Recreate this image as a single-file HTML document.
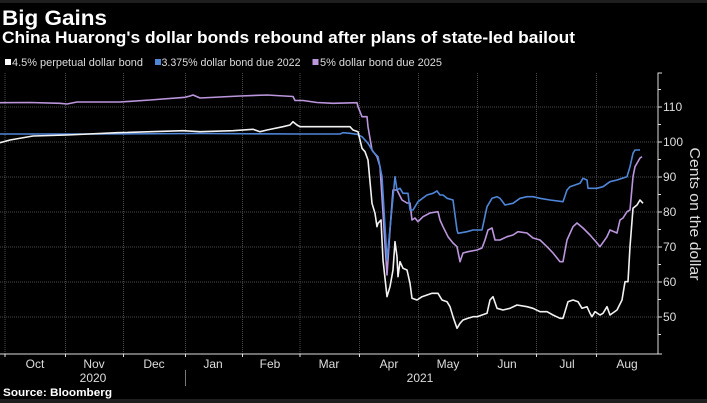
<!DOCTYPE html>
<html><head><meta charset="utf-8"><style>
html,body{margin:0;padding:0;background:#000;}
svg{display:block;}
text{font-family:"Liberation Sans Narrow","Liberation Sans",sans-serif;}
</style></head><body>
<svg width="707" height="403" viewBox="0 0 707 403" xmlns="http://www.w3.org/2000/svg">
<rect x="0" y="0" width="707" height="403" fill="#000"/>
<rect x="0" y="0" width="707" height="3" fill="#1e1e1e"/>
<rect x="0" y="399" width="707" height="4" fill="#1e1e1e"/>

<text x="2" y="25" fill="#fff" font-size="21" font-weight="bold" textLength="105" lengthAdjust="spacingAndGlyphs">Big Gains</text>
<text x="2" y="43" fill="#fff" font-size="17" font-weight="bold" textLength="573" lengthAdjust="spacingAndGlyphs">China Huarong's dollar bonds rebound after plans of state-led bailout</text>

<rect x="5" y="59" width="6" height="6" fill="#fff"/>
<text x="12" y="66" fill="#ddd" font-size="11" textLength="131" lengthAdjust="spacingAndGlyphs">4.5% perpetual dollar bond</text>
<rect x="155" y="59" width="6" height="6" fill="#4f86d8"/>
<text x="161.5" y="66" fill="#ddd" font-size="11" textLength="139" lengthAdjust="spacingAndGlyphs">3.375% dollar bond due 2022</text>
<rect x="312.5" y="59" width="6" height="6" fill="#bb96dd"/>
<text x="320" y="66" fill="#ddd" font-size="11" textLength="122" lengthAdjust="spacingAndGlyphs">5% dollar bond due 2025</text>

<g stroke="#4a4a4a" stroke-width="1" stroke-dasharray="1,1" fill="none">
<line x1="0" y1="107" x2="658" y2="107"/>
<line x1="0" y1="142" x2="658" y2="142"/>
<line x1="0" y1="177" x2="658" y2="177"/>
<line x1="0" y1="212" x2="658" y2="212"/>
<line x1="0" y1="247" x2="658" y2="247"/>
<line x1="0" y1="282" x2="658" y2="282"/>
<line x1="0" y1="317" x2="658" y2="317"/>
<line x1="5" y1="73" x2="5" y2="354"/>
<line x1="65.5" y1="73" x2="65.5" y2="354"/>
<line x1="123.5" y1="73" x2="123.5" y2="354"/>
<line x1="185.5" y1="73" x2="185.5" y2="354"/>
<line x1="242.5" y1="73" x2="242.5" y2="354"/>
<line x1="300" y1="73" x2="300" y2="354"/>
<line x1="359.5" y1="73" x2="359.5" y2="354"/>
<line x1="418.5" y1="73" x2="418.5" y2="354"/>
<line x1="477.5" y1="73" x2="477.5" y2="354"/>
<line x1="536.5" y1="73" x2="536.5" y2="354"/>
<line x1="596.5" y1="73" x2="596.5" y2="354"/>
</g>

<polyline fill="none" stroke="#bb96dd" stroke-width="1.6" stroke-linejoin="round" points="0,102.7 30,102.5 60,103.3 67,104 77,102 120,102 150,100 185,97.3 190,96 193,95 200,98 240,96 267,95 293,96.5 295,100.5 303,100.5 317,102.5 333,103.3 357,102.7 358,106.7 362,116.7 367,116.7 368,126.7 372,150 377,156.7 380,166.7 383,213 387,275 390,230 393,190 397,190 402,200 407,203 410,203 412,220 415,218 418,221.7 423,216.7 430,213 438,211.7 440,220 443,226.7 448,236.7 453,243 457,246.7 460,261.7 463,253 468,251.7 477,250 482,248 485,240 488,230 492,228 495,240 500,240 507,236.7 513,235 518,231.7 527,233 533,238 540,240 547,246.7 553,253 560,261.7 563,261.7 567,240 573,226.7 577,223 583,228 590,235 597,243 600,246.7 607,236.7 610,230 617,233 620,220 623,218 627,211.7 630,210 633,176.7 635,166.7 640,158 642,156.7"/>

<polyline fill="none" stroke="#4f86d8" stroke-width="1.6" stroke-linejoin="round" points="0,134 100,134 200,133.5 300,134 340,134 343,132.7 350,133.3 357,134.3 362,136.7 368,143.3 373,151.7 378,156.7 382,176.7 387,260 395,176.7 397,190 400,188.3 403,193.3 408,193.3 410,210 413,210 418,201.7 427,195 433,193.3 437,191 440,195 443,195 447,198.3 453,200 457,230 458,233.3 467,231.7 473,230 482,230 487,206.7 492,198.3 497,196.7 500,198.3 505,205 513,203.3 520,198.3 527,196.7 533,196.7 540,198.3 550,200 563,201.7 567,190 570,186.7 580,183.3 583,178.3 587,180 588,188.3 597,188.3 603,186.7 610,181.7 617,180 627,176.7 630,166.7 633,153.3 635,150 640,150"/>

<polyline fill="none" stroke="#f2f2f2" stroke-width="1.6" stroke-linejoin="round" points="0,142.7 10,140 33,136 67,135 117,132.7 183,130.7 200,131.7 233,130.7 253,129.3 260,131.7 267,130 283,126.7 290,125 293,121.7 297,125 300,126.7 333,126.7 340,126.7 350,126.7 353,130 358,131.7 362,148.3 365,151.7 368,160 372,203.3 375,213.3 377,226.7 378,223.3 381,220 383,260 387,296.7 390,286.7 393,270 395,241.7 397,256.7 398,276.7 400,261.7 403,268.3 407,270 410,283.3 412,298.3 417,300 422,296.7 427,295 432,293.3 438,293.3 442,300 447,301.7 450,306.7 453,316.7 457,328.3 460,323.3 463,320 468,318.3 473,316.7 477,316.7 482,315 487,313.3 490,300 493,296.7 497,308.3 503,310 510,308.3 517,305 527,306.7 533,308.3 540,311.7 547,311.7 553,315 560,318.3 563,318.3 568,301.7 573,300 578,301.7 582,308.3 587,306.7 590,313.3 592,316.7 595,311.7 600,315 603,313.3 607,306.7 610,315 617,310 622,300 625,281.7 628,281.7 630,246.7 633,208.3 637,205 640,200 643,203.3"/>

<g stroke="#ddd" stroke-width="1" fill="none">
<line x1="658" y1="72.5" x2="658" y2="354"/>
<line x1="658" y1="73" x2="662" y2="73"/>
<line x1="658" y1="89.5" x2="661" y2="89.5"/>
<line x1="658" y1="107" x2="662" y2="107"/>
<line x1="658" y1="124.5" x2="661" y2="124.5"/>
<line x1="658" y1="142" x2="662" y2="142"/>
<line x1="658" y1="159.5" x2="661" y2="159.5"/>
<line x1="658" y1="177" x2="662" y2="177"/>
<line x1="658" y1="194.5" x2="661" y2="194.5"/>
<line x1="658" y1="212" x2="662" y2="212"/>
<line x1="658" y1="229.5" x2="661" y2="229.5"/>
<line x1="658" y1="247" x2="662" y2="247"/>
<line x1="658" y1="264.5" x2="661" y2="264.5"/>
<line x1="658" y1="282" x2="662" y2="282"/>
<line x1="658" y1="299.5" x2="661" y2="299.5"/>
<line x1="658" y1="317" x2="662" y2="317"/>
<line x1="658" y1="334.5" x2="661" y2="334.5"/>
<line x1="658" y1="354" x2="662" y2="354"/>
<line x1="0" y1="354" x2="658" y2="354"/>
<line x1="5" y1="354" x2="5" y2="357"/>
<line x1="65.5" y1="354" x2="65.5" y2="357"/>
<line x1="123.5" y1="354" x2="123.5" y2="357"/>
<line x1="185.5" y1="354" x2="185.5" y2="357"/>
<line x1="242.5" y1="354" x2="242.5" y2="357"/>
<line x1="300" y1="354" x2="300" y2="357"/>
<line x1="359.5" y1="354" x2="359.5" y2="357"/>
<line x1="418.5" y1="354" x2="418.5" y2="357"/>
<line x1="477.5" y1="354" x2="477.5" y2="357"/>
<line x1="536.5" y1="354" x2="536.5" y2="357"/>
<line x1="596.5" y1="354" x2="596.5" y2="357"/>
</g>
<line x1="185.5" y1="370" x2="185.5" y2="386" stroke="#777" stroke-width="1"/>

<g fill="#ddd" font-size="12">
<text x="663" y="111">110</text>
<text x="663" y="146">100</text>
<text x="663" y="181">90</text>
<text x="663" y="216">80</text>
<text x="663" y="251">70</text>
<text x="663" y="286">60</text>
<text x="663" y="321">50</text>
</g>
<text transform="translate(690,214) rotate(90)" text-anchor="middle" fill="#ddd" font-size="15" textLength="133" lengthAdjust="spacingAndGlyphs">Cents on the dollar</text>

<g fill="#ddd" font-size="12" text-anchor="middle">
<text x="35" y="368">Oct</text>
<text x="94" y="368">Nov</text>
<text x="154" y="368">Dec</text>
<text x="213" y="368">Jan</text>
<text x="270" y="368">Feb</text>
<text x="329" y="368">Mar</text>
<text x="389" y="368">Apr</text>
<text x="448" y="368">May</text>
<text x="507" y="368">Jun</text>
<text x="567" y="368">Jul</text>
<text x="627" y="368">Aug</text>
<text x="93" y="382">2020</text>
<text x="420" y="382">2021</text>
</g>
<text x="3" y="396" fill="#fff" font-size="11" font-weight="bold" textLength="109" lengthAdjust="spacingAndGlyphs">Source: Bloomberg</text>
</svg>
</body></html>
